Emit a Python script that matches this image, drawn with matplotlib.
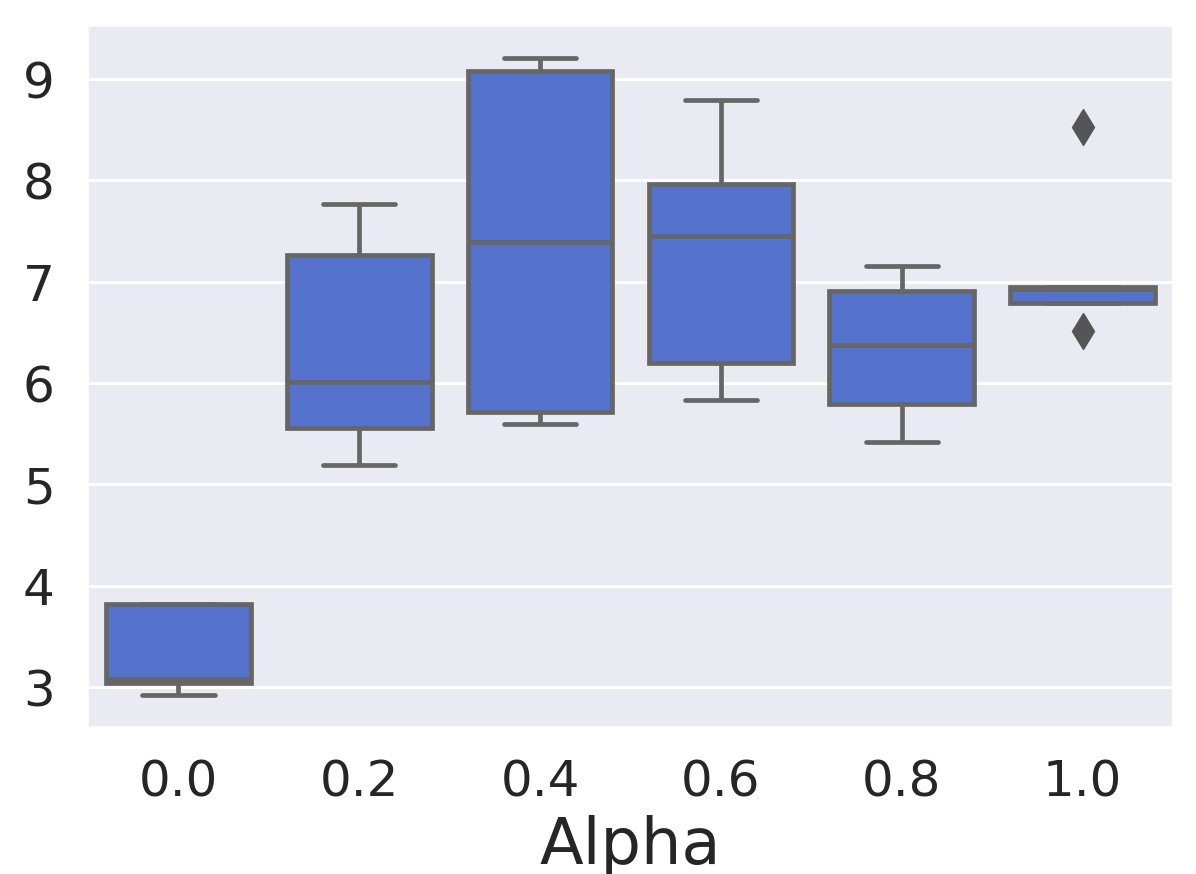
import matplotlib
matplotlib.use("Agg")
import matplotlib.pyplot as plt
import pandas as pd
import seaborn as sns

# five runs per alpha value
alphas = ["0.0", "0.2", "0.4", "0.6", "0.8", "1.0"]
runs_00 = [2.92, 3.04, 3.08, 3.815, 3.815]
runs_02 = [5.19, 5.56, 6.01, 7.26, 7.77]
runs_04 = [5.60, 5.71, 7.39, 9.08, 9.21]
runs_06 = [5.83, 6.20, 7.45, 7.96, 8.79]
runs_08 = [5.42, 5.79, 6.38, 6.91, 7.16]
runs_10 = [6.51, 6.79, 6.93, 6.95, 8.53]

all_runs = [runs_00, runs_02, runs_04, runs_06, runs_08, runs_10]
rows = []
for a, vals in zip(alphas, all_runs):
    for v in vals:
        rows.append({"Alpha": a, "score": v})
df = pd.DataFrame(rows)

sns.set_theme(style="darkgrid")
plt.rcParams['font.family'] = ['DejaVu Sans']

fig = plt.figure(figsize=(11.96, 8.74), dpi=100)
ax = fig.add_axes([0.0736, 0.1682, 0.9072, 0.8021])

line_gray = "#666666"
sns.boxplot(data=df, x="Alpha", y="score", order=alphas, color="royalblue",
            linewidth=3.4, width=0.8, ax=ax,
            boxprops=dict(edgecolor=line_gray),
            whiskerprops=dict(color=line_gray),
            capprops=dict(color=line_gray),
            medianprops=dict(color=line_gray),
            flierprops=dict(marker="d", markersize=18,
                            markerfacecolor="#555555", markeredgecolor="#555555"))

ax.set_ylabel("")
ax.set_xlabel("Alpha", fontsize=46, labelpad=6)
ax.set_yticks([3, 4, 5, 6, 7, 8, 9])
ax.tick_params(axis="both", labelsize=36, colors="#262626")
ax.tick_params(axis="x", pad=17)
ax.tick_params(axis="y", pad=18)
ax.xaxis.grid(False)
ax.yaxis.grid(True, color="white", linewidth=2.2)

plt.savefig("out.png", dpi=100)
